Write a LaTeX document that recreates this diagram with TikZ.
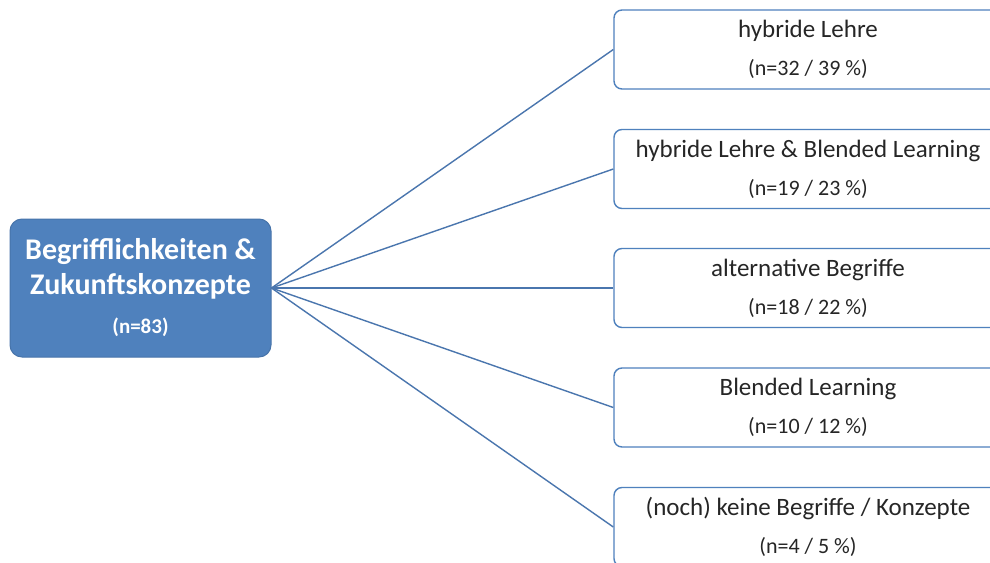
\documentclass[tikz,border=0pt]{standalone}
\usepackage{fontspec}
\setmainfont{Carlito}
\definecolor{hubblue}{HTML}{4F81BD}
\definecolor{linkblue}{HTML}{4A76AE}
\definecolor{boxtext}{HTML}{262626}
\newcommand{\smallline}{\fontsize{22}{26}\selectfont}
\newcommand{\hubsmall}{\fontsize{21}{24}\selectfont}
\begin{document}
\begin{tikzpicture}[x=1pt,y=-1pt,
  hub/.style={draw=hubblue!90!black, line width=1pt, fill=hubblue, rounded corners=12pt,
    minimum width=261pt, minimum height=138pt, inner sep=0pt, text=white,
    align=center, font=\fontsize{30}{35}\selectfont\bfseries},
  leaf/.style={draw=hubblue, line width=1.4pt, fill=white, rounded corners=8pt,
    minimum width=388pt, minimum height=79pt, inner sep=0pt, text=boxtext,
    align=center, font=\fontsize{25}{30}\selectfont},
  link/.style={draw=linkblue, line width=1.4pt}]
\clip (0,0) rectangle (990,562);
\fill[white] (0,0) rectangle (990,562);

\node[hub] (hub) at (140.5,288)
  {Begrifflichkeiten \&\\Zukunftskonzepte\\[4pt]\hubsmall (n=83)};

\node[leaf] (l1) at (808,49.5)
  {hybride Lehre\\[8pt]\smallline (n=32 / 39 \%)};
\node[leaf] (l2) at (808,169)
  {hybride Lehre \& Blended Learning\\[8pt]\smallline (n=19 / 23 \%)};
\node[leaf] (l3) at (808,288)
  {alternative Begriffe\\[8pt]\smallline (n=18 / 22 \%)};
\node[leaf] (l4) at (808,407.5)
  {Blended Learning\\[8pt]\smallline (n=10 / 12 \%)};
\node[leaf] (l5) at (808,527)
  {(noch) keine Begriffe / Konzepte\\[8pt]\smallline (n=4 / 5 \%)};

\foreach \n in {l1,l2,l3,l4,l5}
  \draw[link] (hub.east) -- (\n.west);
\end{tikzpicture}
\end{document}
